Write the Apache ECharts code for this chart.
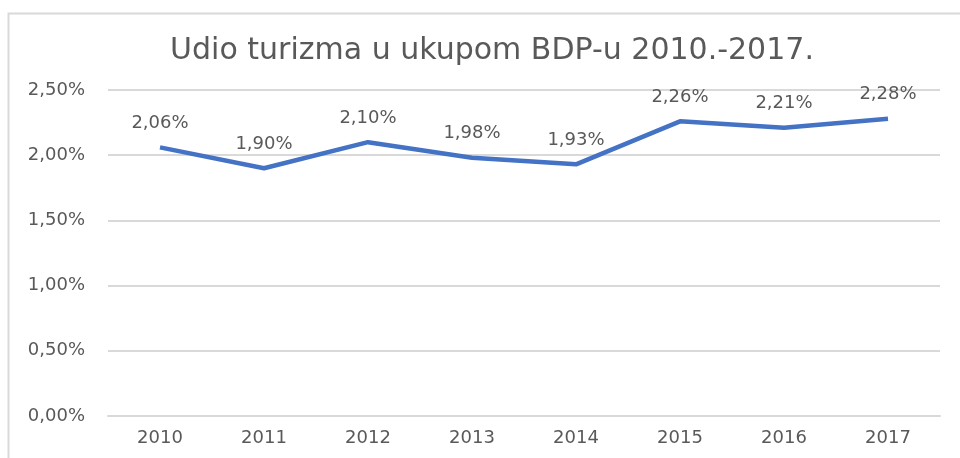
<!DOCTYPE html>
<html lang="hr">
<head>
  <meta charset="UTF-8">
  <title>Udio turizma</title>
  <script src="https://cdn.jsdelivr.net/npm/echarts@6/dist/echarts.min.js"></script>
  <style>
    * {margin: 0; padding: 0;}
    html, body { width: 960px; height: 458px; overflow: hidden; background: #fff; }
    #chart { width: 960px; height: 458px; }
  </style>
</head>
<body>
  <div id="chart"></div>
<script>
var years = ['2010', '2011', '2012', '2013', '2014', '2015', '2016', '2017']
var udio = [2.06, 1.90, 2.10, 1.98, 1.93, 2.26, 2.21, 2.28]
var yTicks = [0, 0.5, 1, 1.5, 2, 2.5]

function pct (v) {
  return Number(v).toFixed(2).replace('.', ',') + '%'
}

var font = '"DejaVu Sans", Verdana, sans-serif'
var chart = echarts.init(document.getElementById('chart'))
chart.setOption({
  animation: false,
  textStyle: { fontFamily: font },
  graphic: [{
    type: 'rect',
    left: 6, top: 11,
    shape: { width: 980, height: 480 },
    style: { fill: 'none', stroke: '#d9d9d9', lineWidth: 2 },
    z: -1
  }],
  title: {
    text: 'Udio turizma u ukupom BDP-u 2010.-2017.',
    left: 487, top: 31, textAlign: 'center',
    textStyle: { fontFamily: font, fontWeight: 'normal', fontSize: 30, color: '#595959' }
  },
  grid: { left: 108, right: 20, top: 90, bottom: 42 },
  xAxis: {
    type: 'category',
    data: years,
    axisLine: { lineStyle: { color: '#d9d9d9', width: 2 } },
    axisTick: { show: false },
    axisLabel: { color: '#595959', fontSize: 18, margin: 13, fontFamily: font }
  },
  yAxis: {
    type: 'value',
    min: yTicks[0], max: yTicks[yTicks.length - 1], interval: 0.5,
    axisLine: { show: false },
    axisTick: { show: false },
    splitLine: { lineStyle: { color: '#d9d9d9', width: 2 } },
    axisLabel: { color: '#595959', fontSize: 18, margin: 23, fontFamily: font, formatter: pct }
  },
  series: [{
    type: 'line',
    data: udio,
    symbol: 'circle',
    symbolSize: 2,
    showSymbol: true,
    itemStyle: { color: 'rgba(0,0,0,0)', borderWidth: 0 },
    lineStyle: { color: '#4472c4', width: 4.5 },
    label: {
      show: true, position: 'top', distance: 14,
      color: '#595959', fontSize: 18, fontFamily: font,
      formatter: function (p) { return pct(p.value) }
    }
  }]
})
</script>
</body>
</html>
